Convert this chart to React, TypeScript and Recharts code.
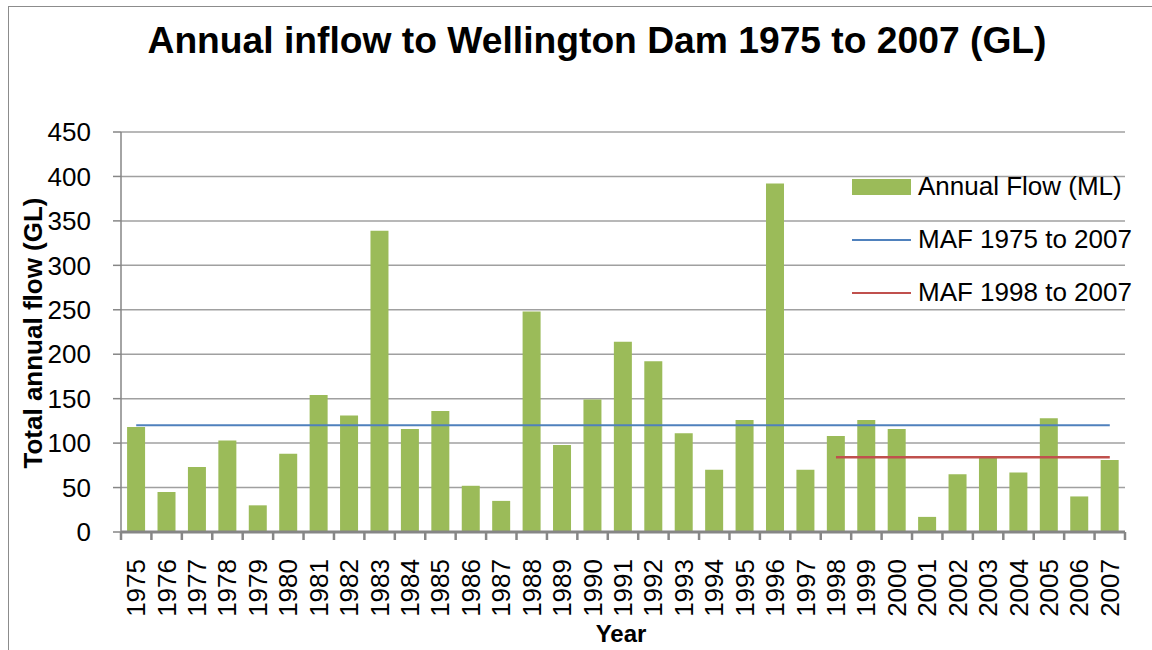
import { ComposedChart, Bar, Line, XAxis, YAxis, CartesianGrid, Legend } from 'recharts';

const years = [
  '1975', '1976', '1977', '1978', '1979', '1980', '1981', '1982', '1983', '1984', '1985',
  '1986', '1987', '1988', '1989', '1990', '1991', '1992', '1993', '1994', '1995', '1996',
  '1997', '1998', '1999', '2000', '2001', '2002', '2003', '2004', '2005', '2006', '2007',
];
const annualFlow = [
  118, 45, 73, 103, 30, 88, 154, 131, 339, 116, 136,
  52, 35, 248, 98, 149, 214, 192, 111, 70, 126, 392,
  70, 108, 126, 116, 17, 65, 84, 67, 128, 40, 81,
];
const mafAllYears = 120;
const mafRecent = 84;
const mafRecentFrom = '1998';
const yTicks = [0, 50, 100, 150, 200, 250, 300, 350, 400, 450];

const data = years.map((year, i) => ({
  year,
  flow: annualFlow[i],
  mafAll: mafAllYears,
  mafRecent: year >= mafRecentFrom ? mafRecent : null,
}));

const W = 1152;
const H = 650;
const M = { top: 132, right: 27, bottom: 117, left: 120 };
const BAND = (W - M.left - 1 - M.right) / years.length;

const FONT = '"Liberation Sans", Arial, sans-serif';
const AXIS_GRAY = '#868686';

// year label plus an Excel-style tick mark on the category boundaries
function YearTick({ x, y, payload, index }: any) {
  const axisY = y - 27;
  const left = x - BAND / 2;
  return (
    <g>
      <line x1={left} y1={axisY} x2={left} y2={axisY + 8} stroke={AXIS_GRAY} strokeWidth={2.5} />
      {index === years.length - 1 && (
        <line x1={x + BAND / 2} y1={axisY} x2={x + BAND / 2} y2={axisY + 8} stroke={AXIS_GRAY} strokeWidth={2.5} />
      )}
      <text
        x={x}
        y={y}
        transform={`rotate(-90 ${x} ${y})`}
        textAnchor="end"
        dominantBaseline="central"
        fontSize={26}
        fontFamily={FONT}
        fill="#000"
      >
        {payload.value}
      </text>
    </g>
  );
}

function LegendBox({ payload }: any) {
  return (
    <div style={{ fontFamily: FONT, fontSize: 26, color: '#000' }}>
      {(payload || []).map((item: any) => (
        <div key={item.value} style={{ display: 'flex', alignItems: 'center', height: 53 }}>
          <svg width={66} height={20}>
            {item.type === 'rect' ? (
              <rect x={0} y={2} width={59} height={16} fill={item.color} />
            ) : (
              <line x1={0} y1={10} x2={59} y2={10} stroke={item.color} strokeWidth={2} />
            )}
          </svg>
          <span style={{ whiteSpace: 'nowrap' }}>{item.value}</span>
        </div>
      ))}
    </div>
  );
}

export default function App() {
  return (
    <div style={{ position: 'absolute', left: 0, top: 0, width: W, height: H, background: '#fff', overflow: 'hidden' }}>
      <div
        style={{
          position: 'absolute', left: 8, top: 6, width: 1200, height: 700,
          borderLeft: '1.5px solid #8c8c8c', borderTop: '1.5px solid #8c8c8c',
        }}
      />
      <div style={{ position: 'absolute', left: 0, top: 0 }}>
        <ComposedChart width={W} height={H} data={data} margin={M} barCategoryGap="20%">
          <CartesianGrid vertical={false} stroke="#a0a0a0" strokeWidth={1.5} />
          <XAxis
            dataKey="year"
            interval={0}
            height={1}
            axisLine={{ stroke: AXIS_GRAY, strokeWidth: 3 }}
            tickLine={false}
            tickSize={0}
            tickMargin={27}
            tick={<YearTick />}
          />
          <YAxis
            width={1}
            domain={[0, 450]}
            ticks={yTicks}
            interval={0}
            tickSize={8}
            tickMargin={22}
            axisLine={{ stroke: AXIS_GRAY, strokeWidth: 1.5 }}
            tickLine={{ stroke: AXIS_GRAY, strokeWidth: 1.5 }}
            tick={{ fontSize: 26, fill: '#000', fontFamily: FONT }}
          />
          <Legend
            layout="horizontal"
            verticalAlign="middle"
            align="center"
            content={<LegendBox />}
            wrapperStyle={{ position: 'absolute', left: 852, top: 160, width: 300 }}
          />
          <Bar dataKey="flow" name="Annual Flow (ML)" fill="#9bbb59" legendType="rect" isAnimationActive={false} />
          <Line dataKey="mafAll" name="MAF 1975 to 2007" stroke="#4f81bd" strokeWidth={2} dot={false} activeDot={false} legendType="line" isAnimationActive={false} />
          <Line dataKey="mafRecent" name="MAF 1998 to 2007" stroke="#c0504d" strokeWidth={2.5} dot={false} activeDot={false} legendType="line" isAnimationActive={false} />
        </ComposedChart>
      </div>
      <svg width={W} height={H} style={{ position: 'absolute', left: 0, top: 0, pointerEvents: 'none' }}>
        <text x={597} y={53} textAnchor="middle" fontSize={37} fontWeight="bold" fontFamily={FONT} textLength={899} lengthAdjust="spacingAndGlyphs">
          Annual inflow to Wellington Dam 1975 to 2007 (GL)
        </text>
        <text
          x={33}
          y={333}
          transform="rotate(-90 33 333)"
          textAnchor="middle"
          dominantBaseline="central"
          fontSize={26}
          fontWeight="bold"
          fontFamily={FONT}
          textLength={271}
          lengthAdjust="spacingAndGlyphs"
        >
          Total annual  flow (GL)
        </text>
        <text x={621} y={642} textAnchor="middle" fontSize={24} fontWeight="bold" fontFamily={FONT}>
          Year
        </text>
      </svg>
    </div>
  );
}
